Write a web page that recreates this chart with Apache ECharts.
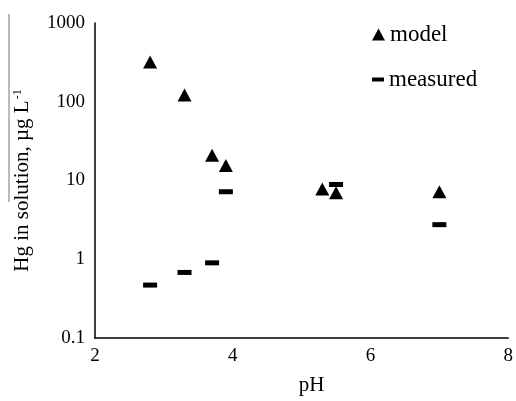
<!DOCTYPE html>
<html>
<head>
<meta charset="utf-8">
<script src="https://cdn.jsdelivr.net/npm/echarts@6/dist/echarts.min.js"></script>
<style>
  html, body { margin: 0; padding: 0; background: #fff; }
  #chart { width: 516px; height: 401px; }
</style>
</head>
<body>
<div id="chart"></div>
<script>
// 数据：pH 与溶液中 Hg 浓度
var modelPH = [2.8, 3.3, 3.7, 3.9, 5.3, 5.5, 7.0];
var modelHg = [320, 122, 21, 15.5, 7.8, 7.0, 7.2];
var measuredPH = [2.8, 3.3, 3.7, 3.9, 5.5, 7.0];
var measuredHg = [0.47, 0.68, 0.9, 7.2, 8.9, 2.75];

function pairs(xs, ys) {
    return xs.map(function (x, i) { return [x, ys[i]]; });
}

var serif = 'Liberation Serif';
var myChart = echarts.init(document.getElementById('chart'));

var option = {
    animation: false,
    backgroundColor: '#fff',
    grid: { left: 95, right: 4, top: 23, bottom: 61 },
    legend: [{
        data: ['model'],
        orient: 'vertical',
        left: 372,
        top: 23,
        padding: 0,
        itemWidth: 13,
        itemHeight: 12,
        itemGap: 0,
        textStyle: { fontFamily: serif, fontSize: 23, color: '#000' }
    }, {
        data: ['measured'],
        orient: 'vertical',
        left: 372,
        top: 68,
        padding: 0,
        itemWidth: 12,
        itemHeight: 4,
        itemGap: 0,
        textStyle: { fontFamily: serif, fontSize: 23, color: '#000' }
    }],
    xAxis: {
        type: 'value',
        min: 2,
        max: 8,
        interval: 2,
        name: 'pH',
        nameLocation: 'middle',
        nameGap: 37,
        nameTextStyle: { fontFamily: serif, fontSize: 21, color: '#000', padding: [0, 0, 0, 20] },
        axisLine: { lineStyle: { color: '#000', width: 1.5 } },
        axisTick: { show: false },
        splitLine: { show: false },
        axisLabel: { fontFamily: serif, fontSize: 19, color: '#000', margin: 9 }
    },
    yAxis: {
        type: 'log',
        logBase: 10,
        min: 0.1,
        max: 1000,
        name: '{a|Hg in solution, µg L}{s|-1}',
        nameLocation: 'middle',
        nameGap: 62,
        nameTextStyle: {
            rich: {
                a: { fontFamily: serif, fontSize: 21, color: '#000' },
                s: { fontFamily: serif, fontSize: 12, color: '#000', verticalAlign: 'top', padding: [0, 0, 8, 1] }
            }
        },
        axisLine: { show: true, lineStyle: { color: '#000', width: 1.5 } },
        axisTick: { show: false },
        splitLine: { show: false },
        axisLabel: {
            fontFamily: serif, fontSize: 19, color: '#000', margin: 10,
            formatter: function (v) { return String(Number(v.toPrecision(6))); }
        }
    },
    graphic: [{
        type: 'line',
        shape: { x1: 9, y1: 14, x2: 9, y2: 202 },
        style: { stroke: '#777', lineWidth: 1 }
    }],
    series: [{
        name: 'model',
        type: 'scatter',
        symbol: 'triangle',
        symbolSize: [14, 13],
        itemStyle: { color: '#000', opacity: 1 },
        data: pairs(modelPH, modelHg)
    }, {
        name: 'measured',
        type: 'scatter',
        symbol: 'rect',
        symbolSize: [14, 5],
        itemStyle: { color: '#000', opacity: 1 },
        data: pairs(measuredPH, measuredHg)
    }]
};

myChart.setOption(option);
</script>
</body>
</html>
